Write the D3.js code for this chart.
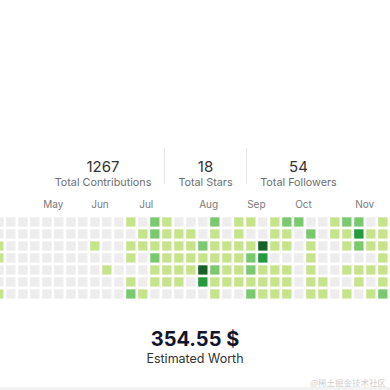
<!DOCTYPE html>
<html>
<head>
<meta charset="utf-8">
<script src="https://cdn.jsdelivr.net/npm/d3@7"></script>
<style>
  html, body { margin: 0; padding: 0; background: #ffffff; }
  svg { display: block; font-family: Inter, "Noto Sans", sans-serif; }
</style>
</head>
<body>
<div id="chart"></div>
<script>
// ---- data ----
const statValues = ["1267", "18", "54"];
const statLabels = ["Total Contributions", "Total Stars", "Total Followers"];
const monthLabels = ["May", "Jun", "Jul", "Aug", "Sep", "Oct", "Nov"];
const monthStartWeek = [4, 8, 12, 17, 21, 25, 30];
// contribution level per week (column), 7 days each (rows)
const weekLevels = [
  [0,0,1,1,0,0,1],
  [0,0,0,0,0,0,0],
  [0,0,0,0,0,0,0],
  [0,0,0,0,0,0,0],
  [0,0,0,0,0,0,0],
  [0,0,0,0,0,0,0],
  [0,0,0,0,0,0,0],
  [0,0,0,0,0,0,0],
  [0,0,1,0,0,0,0],
  [0,0,0,0,1,0,0],
  [0,0,0,0,0,0,0],
  [1,0,1,1,0,1,2],
  [0,1,1,0,0,0,1],
  [2,2,1,2,1,1,0],
  [1,1,1,1,1,1,0],
  [0,1,1,1,1,1,0],
  [0,1,1,1,1,0,0],
  [0,0,2,1,4,3,0],
  [2,1,1,1,2,1,1],
  [0,0,1,1,1,1,0],
  [1,1,1,1,1,1,0],
  [1,0,1,2,2,1,2],
  [0,0,4,3,1,1,1],
  [1,1,1,0,1,1,1],
  [2,1,1,0,1,1,1],
  [2,0,0,0,0,0,0],
  [0,2,1,1,1,1,1],
  [0,0,0,0,0,1,1],
  [1,1,0,0,0,0,0],
  [2,1,1,0,1,0,1],
  [2,3,2,0,1,1,0],
  [0,1,1,0,1,0,1],
  [1,1,1,1,1,1,2]
];
const worthValue = "354.55 $";
const worthLabel = "Estimated Worth";
const watermark = "@稀土掘金技术社区";

// ---- drawing ----
const W = 390, H = 390;
const svg = d3.select("#chart").append("svg").attr("width", W).attr("height", H);
svg.append("rect").attr("width", W).attr("height", H).attr("fill", "#ffffff");

// stats row
const statCenters = [103, 205.5, 298.5];
const sx = d3.scaleOrdinal().domain(d3.range(3)).range(statCenters);
const stats = svg.append("g");
stats.selectAll("text.val").data(statValues).join("text")
  .attr("class", "val")
  .attr("x", (d, i) => sx(i)).attr("y", 171.5)
  .attr("text-anchor", "middle").attr("font-size", 15).attr("fill", "#333333")
  .text(d => d);
stats.selectAll("text.lab").data(statLabels).join("text")
  .attr("class", "lab")
  .attr("x", (d, i) => sx(i)).attr("y", 186)
  .attr("text-anchor", "middle").attr("font-size", 10.8).attr("fill", "#6e6e6e")
  .text(d => d);
const dividers = [164.5, 246.5];
stats.selectAll("line").data(dividers).join("line")
  .attr("x1", d => d).attr("x2", d => d).attr("y1", 148).attr("y2", 184)
  .attr("stroke", "#e6e6e6").attr("stroke-width", 1);

// heatmap
const color = d3.scaleOrdinal().domain([0,1,2,3,4])
  .range(["#ededed", "#c6e48b", "#7bc96f", "#239a3b", "#196127"]);
const x = d3.scaleBand().domain(d3.range(weekLevels.length))
  .range([-5.8, 387.5]).paddingInner(0.225).paddingOuter(0);
const y = d3.scaleBand().domain(d3.range(7))
  .range([217.3, 298.6]).paddingInner(0.225).paddingOuter(0);

const cells = [];
weekLevels.forEach((wk, wi) => wk.forEach((v, di) => cells.push({wi, di, v})));
svg.append("g").selectAll("rect").data(cells).join("rect")
  .attr("x", d => x(d.wi)).attr("y", d => y(d.di))
  .attr("width", x.bandwidth()).attr("height", y.bandwidth())
  .attr("fill", d => color(d.v));

svg.append("g").selectAll("text").data(monthLabels).join("text")
  .attr("x", (d, i) => x(monthStartWeek[i]) + 1).attr("y", 207.5)
  .attr("font-size", 10).attr("fill", "#7a7a7a")
  .text(d => d);

// estimated worth
svg.append("text").attr("x", 195).attr("y", 345.5).attr("text-anchor", "middle")
  .attr("font-size", 20).attr("font-weight", 700).attr("fill", "#14142b")
  .text(worthValue);
svg.append("text").attr("x", 195).attr("y", 363).attr("text-anchor", "middle")
  .attr("font-size", 12.5).attr("fill", "#333333")
  .text(worthLabel);

// bottom strip and watermark
svg.append("rect").attr("x", 0).attr("y", 387).attr("width", W).attr("height", 3).attr("fill", "#f2f2f2");
svg.append("text").attr("x", 386).attr("y", 385.5).attr("text-anchor", "end")
  .attr("font-family", "Noto Sans CJK SC").attr("font-size", 8.5).attr("fill", "#cfcfcf")
  .text(watermark);
</script>
</body>
</html>
